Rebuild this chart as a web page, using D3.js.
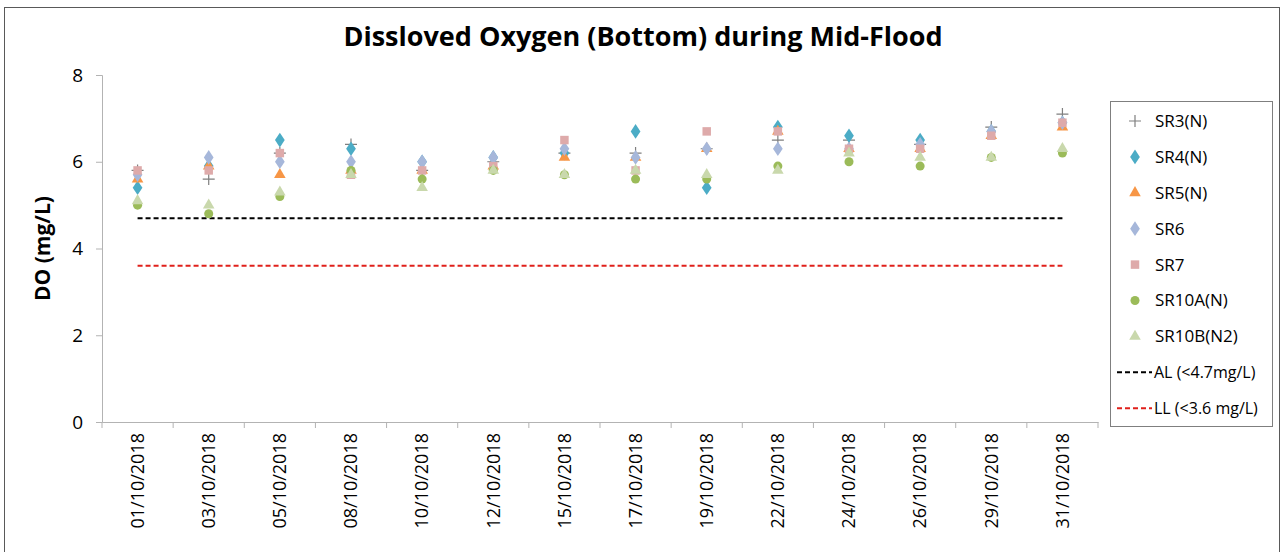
<!DOCTYPE html>
<html>
<head>
<meta charset="utf-8">
<script src="https://cdn.jsdelivr.net/npm/d3@7"></script>
<style>
  body { margin: 0; background: #fff; }
  svg { display: block; font-family: "Open Sans", "Liberation Sans", sans-serif; }
</style>
</head>
<body>
<div class="chart"></div>
<script>
// dates (x categories)
var dates = ["01/10/2018", "03/10/2018", "05/10/2018", "08/10/2018", "10/10/2018", "12/10/2018", "15/10/2018",
             "17/10/2018", "19/10/2018", "22/10/2018", "24/10/2018", "26/10/2018", "29/10/2018", "31/10/2018"];

// DO values, mg/L
var sr3   = [5.8, 5.6, 6.2, 6.4, 5.8, 6.0, 6.2, 6.2, 6.3, 6.5, 6.5, 6.4, 6.8, 7.1];
var sr4   = [5.4, 5.9, 6.5, 6.3, 6.0, 6.1, 6.2, 6.7, 5.4, 6.8, 6.6, 6.5, 6.7, 6.9];
var sr5   = [5.6, 5.9, 5.7, 5.8, 5.8, 5.9, 6.1, 6.1, 6.3, 6.7, 6.3, 6.3, 6.6, 6.8];
var sr6   = [5.7, 6.1, 6.0, 6.0, 6.0, 6.1, 6.3, 6.1, 6.3, 6.3, 6.3, 6.4, 6.7, 6.9];
var sr7   = [5.8, 5.8, 6.2, 5.7, 5.8, 5.9, 6.5, 5.8, 6.7, 6.7, 6.3, 6.3, 6.6, 6.9];
var sr10a = [5.0, 4.8, 5.2, 5.8, 5.6, 5.8, 5.7, 5.6, 5.6, 5.9, 6.0, 5.9, 6.1, 6.2];
var sr10b = [5.1, 5.0, 5.3, 5.7, 5.4, 5.8, 5.7, 5.8, 5.7, 5.8, 6.2, 6.1, 6.1, 6.3];

// limit levels
var actionLevel = 4.7;
var limitLevel = 3.6;

var yTicks = [0, 2, 4, 6, 8];

var series = [
  {name: "SR3(N)",     values: sr3,   symbol: "plus",     color: "#7f7f7f"},
  {name: "SR4(N)",     values: sr4,   symbol: "diamond",  color: "#4bacc6"},
  {name: "SR5(N)",     values: sr5,   symbol: "triangle", color: "#f79646"},
  {name: "SR6",        values: sr6,   symbol: "diamond",  color: "#a6b7da"},
  {name: "SR7",        values: sr7,   symbol: "square",   color: "#deaaaa"},
  {name: "SR10A(N)",   values: sr10a, symbol: "circle",   color: "#9bbb59"},
  {name: "SR10B(N2)",  values: sr10b, symbol: "triangle", color: "#c9d8ac"}
];
var limits = [
  {name: "AL (<4.7mg/L)",  value: actionLevel, color: "#000"},
  {name: "LL (<3.6 mg/L)", value: limitLevel,  color: "#e0201b"}
];

var width = 1280, height = 552;
var margin = {top: 75, left: 102, right: 182, bottom: 130};

var svg = d3.select(".chart").append("svg")
    .attr("width", width)
    .attr("height", height);

// outer frame
svg.append("rect")
    .attr("x", 4.5).attr("y", 7.5)
    .attr("width", width - 5).attr("height", height - 5)
    .attr("fill", "#fff")
    .attr("stroke", "#595959");

var xScale = d3.scaleBand()
    .domain(dates)
    .range([margin.left, width - margin.right]);

var yScale = d3.scaleLinear()
    .domain([0, 8])
    .range([height - margin.bottom, margin.top]);

// title
svg.append("text")
    .attr("x", 643).attr("y", 46)
    .attr("text-anchor", "middle")
    .attr("font-size", 27)
    .attr("font-weight", "bold")
    .attr("fill", "#000")
    .text("Dissloved Oxygen (Bottom) during Mid-Flood");

// y axis
var yAxis = d3.axisLeft(yScale).tickValues(yTicks).tickSize(6).tickPadding(13);
var gy = svg.append("g")
    .attr("class", "y-axis")
    .attr("transform", "translate(" + margin.left + ",0)")
    .call(yAxis);
gy.select(".domain").attr("stroke", "#b3b3b3");
gy.selectAll("line").attr("stroke", "#b3b3b3");
gy.selectAll("text").attr("font-size", 19).attr("fill", "#000")
    .attr("font-family", "'Open Sans', sans-serif");

svg.append("text")
    .attr("transform", "translate(50," + yScale(4) + ") rotate(-90)")
    .attr("text-anchor", "middle")
    .attr("font-size", 21)
    .attr("font-weight", "bold")
    .text("DO (mg/L)");

// x axis, ticks on band edges
var xAxis = d3.axisBottom(xScale).tickSize(0).tickPadding(0);
var gx = svg.append("g")
    .attr("class", "x-axis")
    .attr("transform", "translate(0," + yScale(0) + ")")
    .call(xAxis);
gx.select(".domain").attr("stroke", "#b3b3b3");
gx.selectAll(".tick text")
    .attr("font-size", 18)
    .attr("fill", "#000")
    .attr("font-family", "'Open Sans', sans-serif")
    .attr("text-anchor", "end")
    .attr("dy", "0.35em")
    .attr("transform", "translate(0,11) rotate(-90)");
var edges = dates.map(function(d){ return xScale(d); }).concat([xScale.range()[1]]);
gx.selectAll(".edge")
    .data(edges)
    .enter().append("line")
    .attr("class", "edge")
    .attr("x1", function(d){ return d; }).attr("x2", function(d){ return d; })
    .attr("y1", 0).attr("y2", 6)
    .attr("stroke", "#b3b3b3");

// limit lines, from first to last date
var bw = xScale.bandwidth();
var lx1 = xScale(dates[0]) + bw / 2, lx2 = xScale(dates[dates.length - 1]) + bw / 2;
svg.selectAll(".limit")
    .data(limits)
    .enter().append("line")
    .attr("class", "limit")
    .attr("x1", lx1).attr("x2", lx2)
    .attr("y1", function(d){ return yScale(d.value); })
    .attr("y2", function(d){ return yScale(d.value); })
    .attr("stroke", function(d){ return d.color; })
    .attr("stroke-width", 2)
    .attr("stroke-dasharray", "5,3");

// marker paths
var symbolMap = {
  diamond: d3.symbol().type(d3.symbolDiamond).size(62),
  triangle: d3.symbol().type(d3.symbolTriangle).size(58),
  square: d3.symbol().type(d3.symbolSquare).size(72),
  circle: d3.symbol().type(d3.symbolCircle).size(64),
  plus: null
};

function drawMarker(g, s) {
  if (s.symbol === "plus") {
    g.append("path")
        .attr("d", "M-6,0H6M0,-6V6")
        .attr("stroke", s.color)
        .attr("stroke-width", 1.2)
        .attr("fill", "none");
  } else {
    g.append("path")
        .attr("d", symbolMap[s.symbol]())
        .attr("fill", s.color)
        .attr("transform", s.symbol === "diamond" ? "scale(1.15,1)" : null);
  }
}

series.forEach(function(s){
  var g = svg.append("g").attr("class", "series");
  s.values.forEach(function(v, i){
    var m = g.append("g")
        .attr("transform", "translate(" + (xScale(dates[i]) + bw / 2) + "," + yScale(v) + ")");
    drawMarker(m, s);
  });
});

// legend
var legend = svg.append("g").attr("class", "legend");
legend.append("rect")
    .attr("x", 1110.5).attr("y", 101.5)
    .attr("width", 162).attr("height", 325)
    .attr("fill", "#fff")
    .attr("stroke", "#7f7f7f");

var rowH = 35.9, row0 = 121;
series.forEach(function(s, i){
  var y = row0 + i * rowH;
  var m = legend.append("g").attr("transform", "translate(1135," + y + ")");
  drawMarker(m, s);
  legend.append("text")
      .attr("x", 1155).attr("y", y)
      .attr("dy", "0.35em")
      .attr("font-size", 17)
      .text(s.name);
});
limits.forEach(function(l, i){
  var y = row0 + (series.length + i) * rowH;
  legend.append("line")
      .attr("x1", 1117).attr("x2", 1152)
      .attr("y1", y).attr("y2", y)
      .attr("stroke", l.color)
      .attr("stroke-width", 2)
      .attr("stroke-dasharray", "5,3");
  legend.append("text")
      .attr("x", 1154).attr("y", y)
      .attr("dy", "0.35em")
      .attr("font-size", 16)
      .text(l.name);
});
</script>
</body>
</html>
